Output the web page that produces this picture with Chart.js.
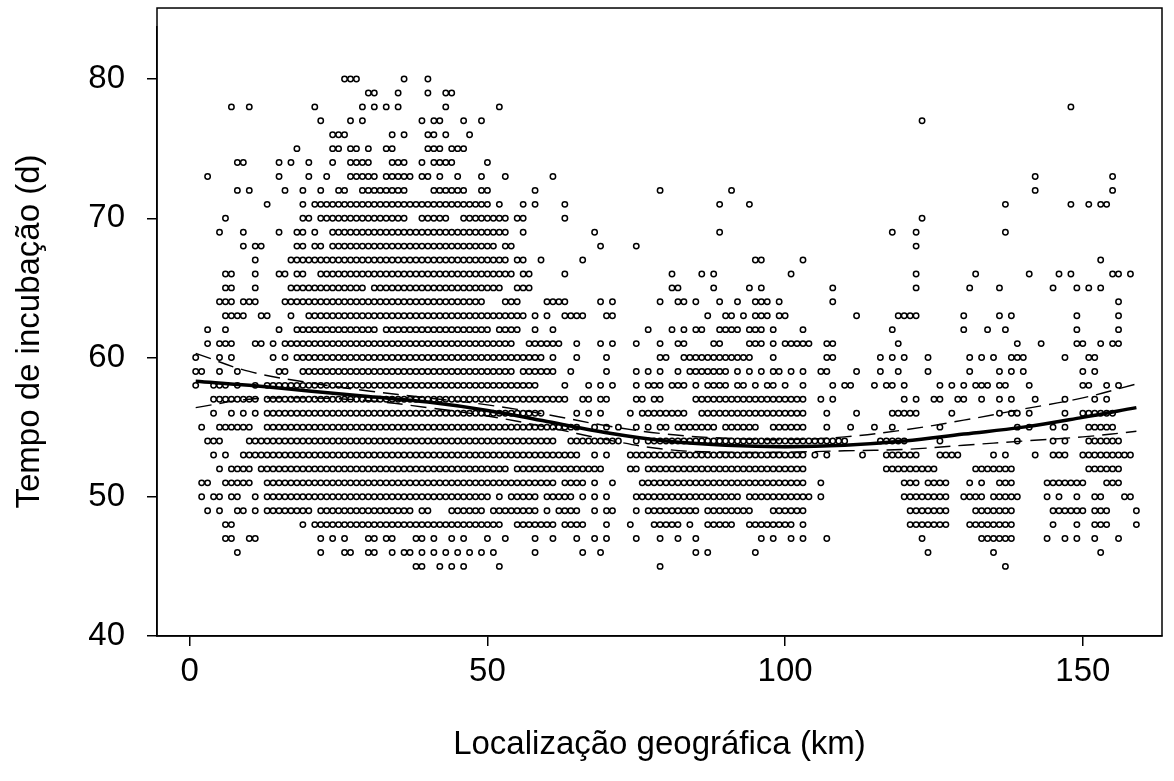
<!DOCTYPE html>
<html>
<head>
<meta charset="utf-8">
<script src="https://cdn.jsdelivr.net/npm/chart.js@4.4.1/dist/chart.umd.min.js"></script>
<style>
  html, body { margin: 0; padding: 0; background: #fff; }
  #wrap { width: 1174px; height: 781px; }
</style>
</head>
<body>
<div id="wrap"><canvas id="scatter"></canvas></div>
<script>
// incubation days (rows) and the km columns where a point appears in that row
const dayLevels = [80, 79, 78, 77, 76, 75, 74, 73, 72, 71, 70, 69, 68, 67, 66, 65, 64, 63, 62, 61, 60, 59, 58, 57, 56, 55, 54, 53, 52, 51, 50, 49, 48, 47, 46, 45];
const kmPerRow = [
  "26-28,36,40",
  "30,31,35,40,43,44",
  "7,10,21,29,31,33,35,43,52,148",
  "22,27,29,39,41,42,46,49,123",
  "24-26,34,36,40,41,43,47",
  "18,24,25,27,28,30,33,34,40-42,44-46",
  "8,9,15,17,20,24,27-30,34-36,39,41-44,50",
  "3,15,20,23,27-31,33-37,39,40,42,45,49,53,61,142,155",
  "8,10,16,19,22,25,26,29-36,41-46,49,50,58,79,91,142,155",
  "13,19,21-49,50,52,56,58,63,89,94,137,148,151,153,154",
  "6,19,20,22-36,39-43,46-53,55,56,63,123",
  "5,9,15,18,19,21,24-53,56,68,89,118,122,137",
  "9,11,12,18,19,21,22,24-51,53,54,69,75,122",
  "11,17-53,55,56,59,66,95,96,103,153",
  "6,7,11,15,16,18,19,22-54,56,57,63,81,86,88,101,122,132,141,146,148,155,156,158",
  "6,7,11,17-29,31-52,55-57,81,82,88,94,96,108,122,131,136,145,149,151,153",
  "5-7,9-11,16-49,53-55,60-63,69,71,79,82,83,85,89,92,95-97,99,108,156",
  "6-9,12,13,17,20-56,58,60,63-66,70,71,87,90,91,93,95-97,99,100,112,119-122,130,136,138,149,156",
  "3,6,15,18-31,33-50,52-55,58,61,77,81,83,85,86,89-92,94-96,98,103,118,130,134,137,149,156",
  "3,5-7,11,12,14,16-54,57-62,65,69,71,75,79,82,83,88,89,94-96,98,100-104,107,108,119,139,143,149,150,153,155,156",
  "1,5,7,14,16,18-59,61,65,70,79,80,83-94,98,107,108,116,118,120,124,131,133,135,138-140,147,151,152",
  "1,2,5,8,15,16,19-54,56-61,64,70,75,77,79,82,84-90,92,94,96,98,99,101,103,106,107,112,116,119,124,131,136,138,140,150,152",
  "1,4-6,8,11,13-58,63,67,69,71,75,77-79,81-83,85,87-90,92,93,95,97,98,100,103,108,110,111,115,117,118,120,126,128,130,132-134,136,137,141,150,151,154,156",
  "4-11,13-63,66,67,69,70,75,76,78,79,85-103,106,108,120,122,125,126,129,130,133,136,138,142,147,152,154",
  "4,7,9,11,13-59,65,67,69,74,76-83,86-103,107,112,118-122,128,136,138,139,141,147,150-155",
  "2,5-10,13-65,68,70,72,75,77,79,80,82-88,90-95,98-103,107,111,115,118,126,139,141,145,147,151-155",
  "3-5,10-61,64-72,75,77-110,116-120,126,139,145,147,151-156",
  "4,6,9-65,68,70,74-103,105,107,113,117-122,126-129,135,137,142,145-147,150-158",
  "5,7-10,12-53,55-69,74,75,77-103,117-125,132-138,151-156",
  "2,3,6-10,13-61,63-66,68,71,76-103,106,120-122,124-127,131,133,136-138,144-150,154-156",
  "2,4,5,7,8,11,13-50,52,54-58,60-64,66,68,70,75-92,94-104,106,120-127,130-133,135-139,144,146,149,152,153,157,158",
  "3,5,8,9,11,13-20,22-37,39,40,44-49,51-58,60,62-65,68,70,71,75,77-85,87-94,98-103,121-127,132-138,145-150,152-154,159",
  "6,7,19,21-52,55-61,63-66,70,74,78-82,84,87-91,94-101,103,121-127,131-138,145,149,152-154,159",
  "6,7,10,11,22,24,26,30,31,33,34,38,39,41,44,46,50,53,58,61,65,68,70,75,79,82,85,96,98,101,103,107,123,133-138,144,147,149,152,156",
  "8,22,26,27,30,31,34,36,37,39,41,43,45,47,49,51,58,66,69,85,87,95,124,135,153",
  "38,39,42,44,46,52,79,137"
];

// fitted curve and its confidence band, read at these km positions
const fitKm = [1, 10, 20, 30, 40, 50, 60, 70, 80, 90, 100, 110, 120, 130, 140, 150, 159];
const fitMid = [58.3, 58.0, 57.6, 57.2, 56.8, 56.2, 55.4, 54.6, 54.0, 53.7, 53.6, 53.7, 54.0, 54.5, 55.0, 55.7, 56.4];
const fitUpper = [60.3, 59.0, 58.2, 57.6, 57.1, 56.6, 55.9, 55.1, 54.5, 54.2, 54.1, 54.3, 54.8, 55.5, 56.3, 57.1, 58.1];
const fitLower = [56.4, 57.0, 57.1, 56.9, 56.4, 55.8, 55.0, 54.1, 53.4, 53.2, 53.2, 53.3, 53.4, 53.7, 54.0, 54.3, 54.7];

const xTicks = [0, 50, 100, 150];
const yTicks = [40, 50, 60, 70, 80];
const boxTopDays = 85.1; // where the R plot box ends above the data

function expand(spec) {
  const out = [];
  spec.split(",").forEach((part) => {
    const bits = part.split("-").map(Number);
    if (bits.length === 1) {
      out.push(bits[0]);
    } else {
      for (let k = bits[0]; k <= bits[1]; k++) out.push(k);
    }
  });
  return out;
}

const points = [];
dayLevels.forEach((d, i) => {
  expand(kmPerRow[i]).forEach((km) => points.push({ x: km, y: d }));
});

function curve(vals) {
  return fitKm.map((k, i) => ({ x: k, y: vals[i] }));
}

const boxPlugin = {
  id: "box",
  afterDraw(chart) {
    const a = chart.chartArea;
    const top = chart.scales.y.getPixelForValue(boxTopDays);
    const c = chart.ctx;
    c.save();
    c.strokeStyle = "#000";
    c.lineWidth = 1.5;
    c.strokeRect(a.left, top, a.right - a.left, a.bottom - top);
    c.restore();
  },
};

const font = { family: "'Liberation Sans', Arial, sans-serif", size: 33 };
const yTickFont = { family: "'Liberation Sans', Arial, sans-serif", size: 33, lineHeight: 0.3 };

new Chart(document.getElementById("scatter"), {
  type: "scatter",
  data: {
    datasets: [
      {
        data: points,
        pointRadius: 2.7,
        pointBorderWidth: 1.5,
        pointBorderColor: "#000",
        pointBackgroundColor: "transparent",
        order: 3,
      },
      {
        type: "line",
        data: curve(fitUpper),
        borderColor: "#000",
        borderWidth: 1.4,
        borderDash: [16, 8],
        pointRadius: 0,
        tension: 0.4,
        order: 1,
      },
      {
        type: "line",
        data: curve(fitLower),
        borderColor: "#000",
        borderWidth: 1.4,
        borderDash: [16, 8],
        pointRadius: 0,
        tension: 0.4,
        order: 1,
      },
      {
        type: "line",
        data: curve(fitMid),
        borderColor: "#000",
        borderWidth: 3.5,
        pointRadius: 0,
        tension: 0.4,
        order: 0,
      },
    ],
  },
  options: {
    responsive: true,
    maintainAspectRatio: false,
    animation: false,
    layout: { padding: { top: 0, right: 12, left: 0, bottom: 0 } },
    plugins: { legend: { display: false }, tooltip: { enabled: false } },
    scales: {
      x: {
        type: "linear",
        min: -5.5,
        max: 163.3,
        afterBuildTicks: (s) => { s.ticks = xTicks.map((v) => ({ value: v })); },
        afterFit: (s) => { s.height = 145; },
        grid: { display: true, drawOnChartArea: false, tickLength: 10, color: "#000", lineWidth: 1.5 },
        border: { display: true, color: "#000", width: 1.5 },
        ticks: { color: "#000", font: font, padding: 6, maxRotation: 0 },
        title: { display: true, text: "Localização geográfica (km)", color: "#000", font: font, padding: { top: 0, bottom: 16 } },
      },
      y: {
        type: "linear",
        min: 40,
        max: 83.74,
        afterBuildTicks: (s) => { s.ticks = yTicks.map((v) => ({ value: v })); },
        afterFit: (s) => { s.width = 157; },
        grid: { display: true, drawOnChartArea: false, tickLength: 10, color: "#000", lineWidth: 1.5 },
        border: { display: true, color: "#000", width: 1.5 },
        ticks: { color: "#000", font: yTickFont, padding: 22 },
        title: { display: true, text: "Tempo de incubação (d)", color: "#000", font: font, padding: { top: 10, bottom: 0 } },
      },
    },
  },
  plugins: [boxPlugin],
});
</script>
</body>
</html>
